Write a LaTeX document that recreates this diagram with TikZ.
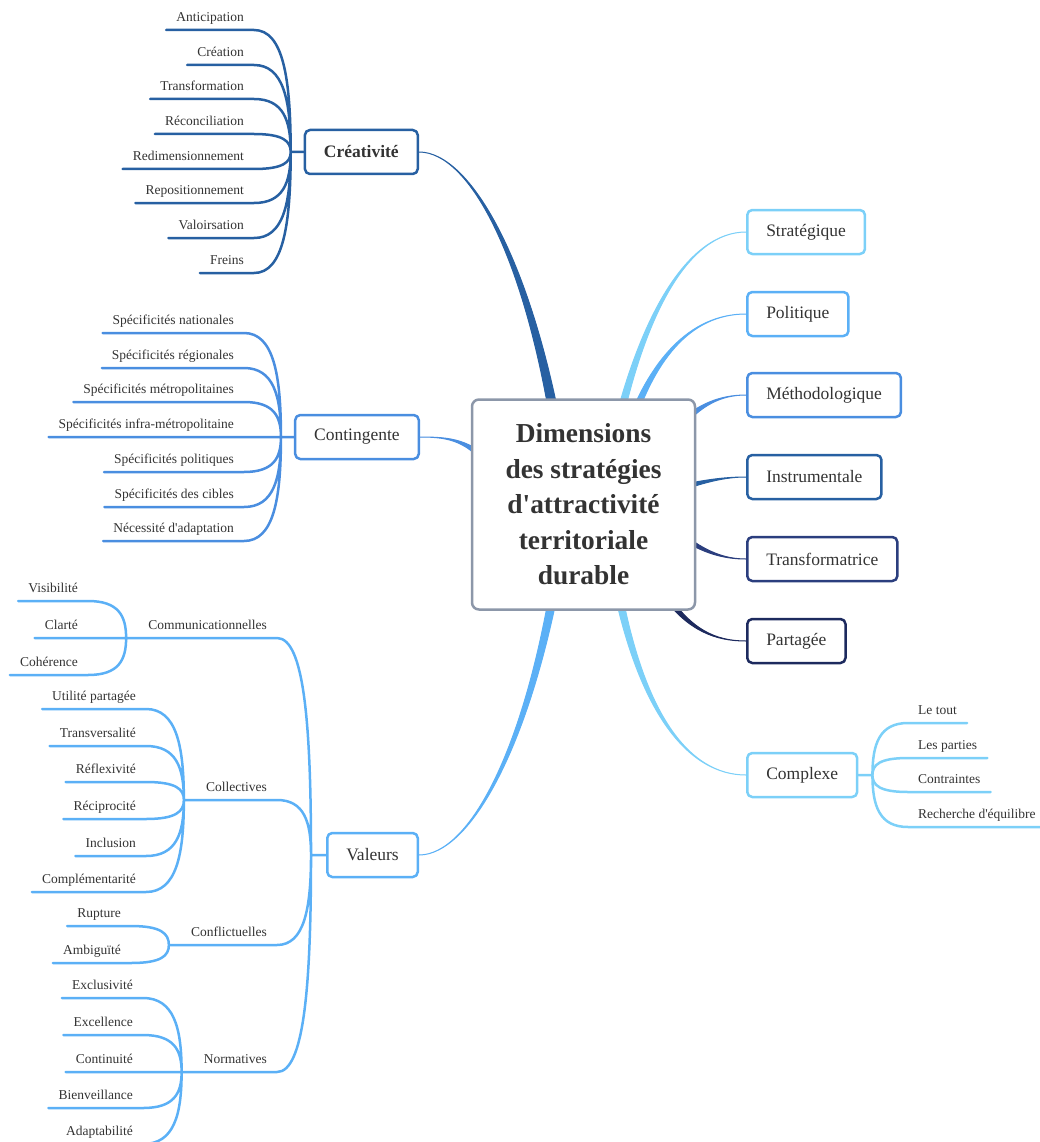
\documentclass[tikz,border=0pt]{standalone}
\usepackage{fontspec}
\setmainfont{Liberation Serif}
\usetikzlibrary{calc,backgrounds}
\definecolor{txt}{HTML}{333333}
\definecolor{rootc}{HTML}{8C97A9}
\definecolor{creac}{HTML}{2760A2}
\definecolor{contc}{HTML}{4A8EE0}
\definecolor{valc}{HTML}{5BB0F6}
\definecolor{stratc}{HTML}{7CD0F8}
\definecolor{transc}{HTML}{2B3E7E}
\definecolor{partc}{HTML}{1D2A5E}
\tikzset{
  every picture/.style={line join=round, line cap=round},
  rootbox/.style={draw=rootc, line width=2.5pt, fill=white, rounded corners=7pt, align=center, text=txt, minimum width=223pt, minimum height=210pt, font=\bfseries\fontsize{27.4}{35.5}\selectfont},
  mainbox/.style={draw=#1, line width=2.5pt, fill=white, rounded corners=5pt, text=txt, minimum height=44pt, inner xsep=19pt, font=\fontsize{17.5}{20}\selectfont},
  leaf/.style={inner xsep=10pt, inner ysep=5.5pt, text height=10pt, text depth=3pt, text=txt, font=\fontsize{13.5}{16}\selectfont},
  leafL/.style={leaf, anchor=south east},
  leafR/.style={leaf, anchor=south west},
  twig/.style={draw=#1, line width=2.5pt},
  fanto/.style={to path={.. controls ($(\tikztostart)!0.8!(\tikztotarget |- \tikztostart)$) and ($(\tikztotarget)!0.6!(\tikztotarget |- \tikztostart)$) .. (\tikztotarget)}},
}
\newcommand{\branch}[6]{\filldraw[#1, line width=1pt] ($(#2)+(#6)$) .. controls ($(#3)+0.5*(#6)$) and (#4) .. (#5) .. controls (#4) and ($(#3)-0.5*(#6)$) .. ($(#2)-(#6)$) -- cycle;}
\newcommand{\q}{\textquotesingle}

\begin{document}
\begin{tikzpicture}[x=1pt, y=-1pt]
\useasboundingbox (0,0) rectangle (1039,1142);
\node[rootbox] (root) at (583.5,504.5) {Dimensions\\des stratégies\\d\q attractivité\\territoriale\\durable};

\node[mainbox=stratc, anchor=west] (strat) at (746,232) {Stratégique};
\node[mainbox=valc, anchor=west] (pol) at (746,314) {Politique};
\node[mainbox=contc, anchor=west] (meth) at (746,395) {Méthodologique};
\node[mainbox=creac, anchor=west] (instr) at (746,477) {Instrumentale};
\node[mainbox=transc, anchor=west] (transf) at (746,559) {Transformatrice};
\node[mainbox=partc, anchor=west] (part) at (746,641) {Partagée};
\node[mainbox=stratc, anchor=west] (cplx) at (746,775) {Complexe};
\node[mainbox=creac, anchor=east, font=\bfseries\fontsize{17.5}{20}\selectfont] (crea) at (419,152) {Créativité};
\node[mainbox=contc, anchor=east] (cont) at (420,437) {Contingente};
\node[mainbox=valc, anchor=east] (val) at (419,855) {Valeurs};

\coordinate (fCrea) at ($(crea.west)+(-13,0)$);
\coordinate (fCont) at ($(cont.west)+(-13,0)$);
\coordinate (fVal) at ($(val.west)+(-15,0)$);
\coordinate (fCplx) at ($(cplx.east)+(14,0)$);

\path (254,30) node[leafL] (cr1) {Anticipation}
(254,65) node[leafL] (cr2) {Création}
(254,99) node[leafL] (cr3) {Transformation}
(254,134) node[leafL] (cr4) {Réconciliation}
(254,169) node[leafL] (cr5) {Redimensionnement}
(254,203) node[leafL] (cr6) {Repositionnement}
(254,238) node[leafL] (cr7) {Valoirsation}
(254,273) node[leafL] (cr8) {Freins};
\path (244,333) node[leafL] (co1) {Spécificités nationales}
(244,368) node[leafL] (co2) {Spécificités régionales}
(244,402) node[leafL] (co3) {Spécificités métropolitaines}
(244,437) node[leafL] (co4) {Spécificités infra-métropolitaine}
(244,472) node[leafL] (co5) {Spécificités politiques}
(244,507) node[leafL] (co6) {Spécificités des cibles}
(244,541) node[leafL] (co7) {Nécessité d\q adaptation};
\path (277,638) node[leafL] (comm) {Communicationnelles}
(277,800) node[leafL] (coll) {Collectives}
(277,945) node[leafL] (conf) {Conflictuelles}
(277,1072) node[leafL] (norm) {Normatives};
\coordinate (fComm) at ($(comm.south west)+(-12,0)$);
\coordinate (fColl) at ($(coll.south west)+(-12,0)$);
\coordinate (fConf) at ($(conf.south west)+(-12,0)$);
\coordinate (fNorm) at ($(norm.south west)+(-12,0)$);
\path (88,601) node[leafL] (cm1) {Visibilité}
(88,638) node[leafL] (cm2) {Clarté}
(88,675) node[leafL] (cm3) {Cohérence};
\path (146,709) node[leafL] (cl1) {Utilité partagée}
(146,746) node[leafL] (cl2) {Transversalité}
(146,782) node[leafL] (cl3) {Réflexivité}
(146,819) node[leafL] (cl4) {Réciprocité}
(146,856) node[leafL] (cl5) {Inclusion}
(146,892) node[leafL] (cl6) {Complémentarité};
\path (131,926) node[leafL] (cf1) {Rupture}
(131,963) node[leafL] (cf2) {Ambiguïté};
\path (143,998) node[leafL] (nm1) {Exclusivité}
(143,1035) node[leafL] (nm2) {Excellence}
(143,1072) node[leafL] (nm3) {Continuité}
(143,1108) node[leafL] (nm4) {Bienveillance}
(143,1144) node[leafL] (nm5) {Adaptabilité};
\path (908,723) node[leafR] (cx1) {Le tout}
(908,758) node[leafR] (cx2) {Les parties}
(908,792) node[leafR] (cx3) {Contraintes}
(908,827) node[leafR] (cx4) {Recherche d\q équilibre};

\draw[twig=creac] (crea.west) -- (fCrea)
(cr1.south west) -- (cr1.south east) to[fanto] (fCrea)
(cr2.south west) -- (cr2.south east) to[fanto] (fCrea)
(cr3.south west) -- (cr3.south east) to[fanto] (fCrea)
(cr4.south west) -- (cr4.south east) to[fanto] (fCrea)
(cr5.south west) -- (cr5.south east) to[fanto] (fCrea)
(cr6.south west) -- (cr6.south east) to[fanto] (fCrea)
(cr7.south west) -- (cr7.south east) to[fanto] (fCrea)
(cr8.south west) -- (cr8.south east) to[fanto] (fCrea);
\draw[twig=contc] (cont.west) -- (fCont)
(co1.south west) -- (co1.south east) to[fanto] (fCont)
(co2.south west) -- (co2.south east) to[fanto] (fCont)
(co3.south west) -- (co3.south east) to[fanto] (fCont)
(co4.south west) -- (co4.south east) to[fanto] (fCont)
(co5.south west) -- (co5.south east) to[fanto] (fCont)
(co6.south west) -- (co6.south east) to[fanto] (fCont)
(co7.south west) -- (co7.south east) to[fanto] (fCont);
\draw[twig=valc] (val.west) -- (fVal)
(fComm) -- (comm.south west) -- (comm.south east) to[fanto] (fVal)
(fColl) -- (coll.south west) -- (coll.south east) to[fanto] (fVal)
(fConf) -- (conf.south west) -- (conf.south east) to[fanto] (fVal)
(fNorm) -- (norm.south west) -- (norm.south east) to[fanto] (fVal)
(cm1.south west) -- (cm1.south east) to[fanto] (fComm)
(cm2.south west) -- (cm2.south east) to[fanto] (fComm)
(cm3.south west) -- (cm3.south east) to[fanto] (fComm)
(cl1.south west) -- (cl1.south east) to[fanto] (fColl)
(cl2.south west) -- (cl2.south east) to[fanto] (fColl)
(cl3.south west) -- (cl3.south east) to[fanto] (fColl)
(cl4.south west) -- (cl4.south east) to[fanto] (fColl)
(cl5.south west) -- (cl5.south east) to[fanto] (fColl)
(cl6.south west) -- (cl6.south east) to[fanto] (fColl)
(cf1.south west) -- (cf1.south east) to[fanto] (fConf)
(cf2.south west) -- (cf2.south east) to[fanto] (fConf)
(nm1.south west) -- (nm1.south east) to[fanto] (fNorm)
(nm2.south west) -- (nm2.south east) to[fanto] (fNorm)
(nm3.south west) -- (nm3.south east) to[fanto] (fNorm)
(nm4.south west) -- (nm4.south east) to[fanto] (fNorm)
(nm5.south west) -- (nm5.south east) to[fanto] (fNorm);
\draw[twig=stratc] (cplx.east) -- (fCplx)
(cx1.south east) -- (cx1.south west) to[fanto] (fCplx)
(cx2.south east) -- (cx2.south west) to[fanto] (fCplx)
(cx3.south east) -- (cx3.south west) to[fanto] (fCplx)
(cx4.south east) -- (cx4.south west) to[fanto] (fCplx);

\coordinate (sCrea) at (560,450);
\coordinate (sCont) at (495,470);
\coordinate (sVal) at (560,556);
\coordinate (sStrat) at (610,460);
\coordinate (sPol) at (625,440);
\coordinate (sMeth) at (680,425);
\coordinate (sInstr) at (680,488);
\coordinate (sTransf) at (680,535);
\coordinate (sPart) at (665,595);
\coordinate (sCplx) at (610,546);
\begin{scope}[on background layer]
\branch{creac}{sCrea}{530,260}{470,152}{crea.east}{5.2,0}
\branch{contc}{sCont}{470,440}{450,437}{cont.east}{3.2,-2.6}
\branch{valc}{sVal}{530,746}{470,855}{val.east}{4.6,0}
\branch{stratc}{sStrat}{640,310}{690,232}{strat.west}{4.4,0}
\branch{valc}{sPol}{650,360}{690,314}{pol.west}{3.8,1.2}
\branch{contc}{sMeth}{700,405}{720,395}{meth.west}{2.4,2.4}
\branch{creac}{sInstr}{705,481}{725,477}{instr.west}{0.7,2.6}
\branch{transc}{sTransf}{705,553}{725,559}{transf.west}{-1.6,2.3}
\branch{partc}{sPart}{690,630}{715,641}{part.west}{-2.3,1.7}
\branch{stratc}{sCplx}{635,716}{690,775}{cplx.west}{4.4,0}
\end{scope}
\end{tikzpicture}
\end{document}
